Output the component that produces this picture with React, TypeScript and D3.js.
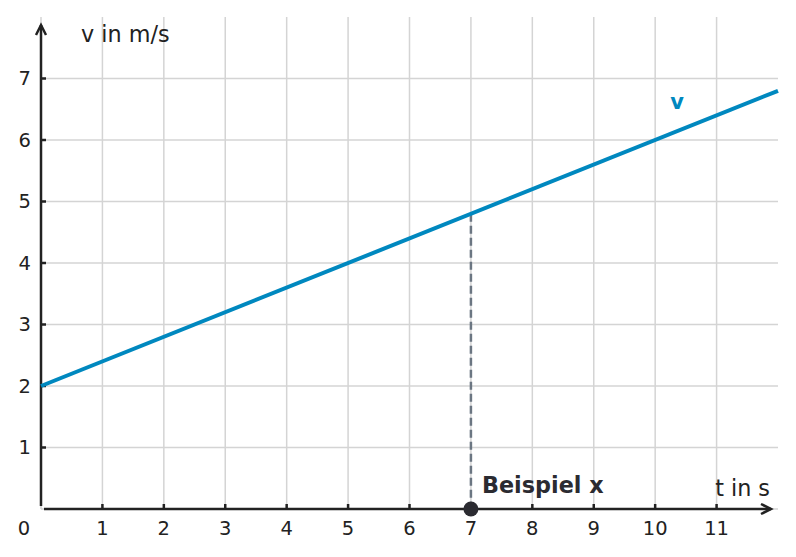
import { useEffect, useRef } from 'react'
import { line, scaleLinear, select } from 'd3'

const tValues = [0, 12]
const vValues = [2, 6.8]
const xTicks = [1, 2, 3, 4, 5, 6, 7, 8, 9, 10, 11]
const yTicks = [1, 2, 3, 4, 5, 6, 7]
const xGrid = [0, 1, 2, 3, 4, 5, 6, 7, 8, 9, 10, 11]
const yGrid = [1, 2, 3, 4, 5, 6, 7]
const exampleT = 7
const exampleLabel = 'Beispiel x'
const seriesLabel = 'v'

const dims = { width: 796, height: 557, left: 41, right: 778, top: 17, bottom: 509 }
const font = '"DejaVu Sans", sans-serif'

const App = () => {
  const ref = useRef<SVGSVGElement | null>(null)

  useEffect(() => {
    const svg = select(ref.current)
    svg.selectAll('*').remove()

    const x = scaleLinear().domain([0, 12]).range([dims.left, dims.right])
    const y = scaleLinear().domain([0, 8]).range([dims.bottom, dims.top])

    // grid
    const grid = svg.append('g').attr('stroke', '#d4d4d4').attr('stroke-width', 1.5)
    grid.selectAll('line.v').data(xGrid).enter().append('line')
      .attr('x1', d => x(d)).attr('x2', d => x(d))
      .attr('y1', dims.top).attr('y2', dims.bottom)
    grid.selectAll('line.h').data(yGrid).enter().append('line')
      .attr('x1', dims.left).attr('x2', dims.right)
      .attr('y1', d => y(d)).attr('y2', d => y(d))
    grid.append('line')
      .attr('x1', dims.left).attr('x2', dims.right)
      .attr('y1', y(0)).attr('y2', y(0))

    // axes
    const ax = svg.append('g').attr('stroke', '#222').attr('stroke-width', 2.5).attr('fill', 'none')
    ax.append('line').attr('x1', x(0)).attr('x2', x(0)).attr('y1', y(0) - 3).attr('y2', 25)
    ax.append('path').attr('d', `M${x(0) - 5},${35} L${x(0)},${25} L${x(0) + 5},${35}`)
    ax.append('line').attr('x1', x(0) + 3).attr('x2', 771).attr('y1', y(0)).attr('y2', y(0))
    ax.append('path').attr('d', `M761,${y(0) - 5} L771,${y(0)} L761,${y(0) + 5}`)

    ax.selectAll('line.xt').data(xTicks).enter().append('line')
      .attr('x1', d => x(d)).attr('x2', d => x(d))
      .attr('y1', y(0)).attr('y2', y(0) - 5)
    ax.selectAll('line.yt').data(yTicks).enter().append('line')
      .attr('x1', x(0)).attr('x2', x(0) + 5)
      .attr('y1', d => y(d)).attr('y2', d => y(d))

    // tick labels
    const lab = svg.append('g').attr('font-family', font).attr('font-size', 19.5).attr('fill', '#222')
    lab.selectAll('text.xl').data(xTicks).enter().append('text')
      .attr('x', d => x(d)).attr('y', y(0) + 26).attr('text-anchor', 'middle').text(d => d)
    lab.append('text').attr('x', 24).attr('y', y(0) + 26).attr('text-anchor', 'middle').text('0')
    lab.selectAll('text.yl').data(yTicks).enter().append('text')
      .attr('x', 31).attr('y', d => y(d) + 6.5).attr('text-anchor', 'end').text(d => d)

    lab.append('text').attr('x', 81).attr('y', 42).attr('font-size', 22.3).text('v in m/s')
    lab.append('text').attr('x', 770).attr('y', 496).attr('font-size', 22.3).attr('text-anchor', 'end').text('t in s')

    // series line
    const pts = tValues.map((t, i) => [t, vValues[i]] as [number, number])
    const vAt = (t: number) => vValues[0] + (vValues[1] - vValues[0]) * (t - tValues[0]) / (tValues[1] - tValues[0])

    svg.append('line')
      .attr('x1', x(exampleT)).attr('x2', x(exampleT))
      .attr('y1', y(vAt(exampleT))).attr('y2', y(0))
      .attr('stroke', '#6b7682').attr('stroke-width', 2.5).attr('stroke-dasharray', '8,4')

    svg.append('path')
      .attr('d', line<[number, number]>().x(d => x(d[0])).y(d => y(d[1]))(pts))
      .attr('stroke', '#0088bf').attr('stroke-width', 4).attr('fill', 'none')

    svg.append('circle').attr('cx', x(exampleT)).attr('cy', y(0)).attr('r', 7.5).attr('fill', '#2b2b31')

    svg.append('text').attr('x', 482).attr('y', 493).attr('font-family', font)
      .attr('font-size', 22.3).attr('font-weight', 'bold').attr('fill', '#2b2b31').text(exampleLabel)
    svg.append('text').attr('x', 677).attr('y', 109).attr('font-family', font).attr('text-anchor', 'middle')
      .attr('font-size', 21).attr('font-weight', 'bold').attr('fill', '#0088bf').text(seriesLabel)
  }, [])

  return (
    <svg ref={ref} width={dims.width} height={dims.height}
      style={{ position: 'absolute', left: 0, top: 0, background: '#fff' }} />
  )
}

export default App
